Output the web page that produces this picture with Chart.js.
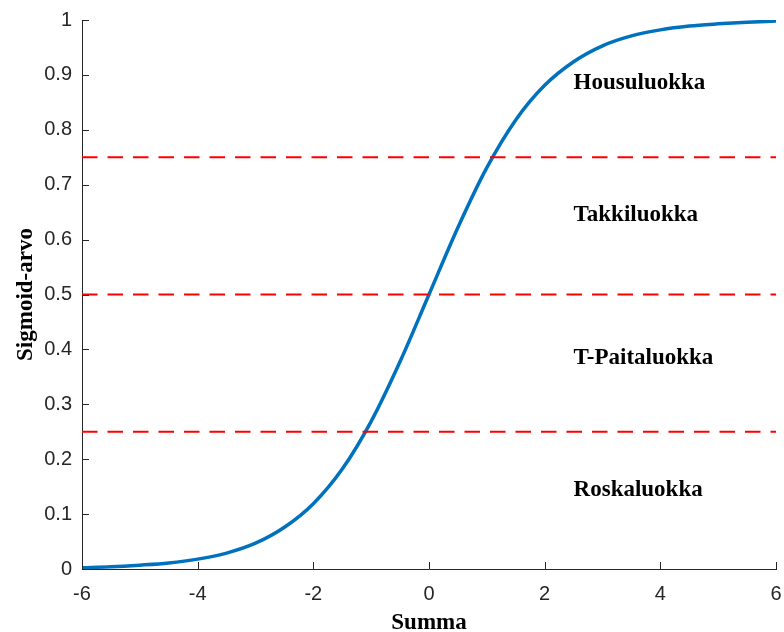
<!DOCTYPE html>
<html>
<head>
<meta charset="utf-8">
<script src="https://cdn.jsdelivr.net/npm/chart.js@4/dist/chart.umd.min.js"></script>
<style>
  body { margin: 0; background: #fff; }
</style>
</head>
<body>
<canvas id="chart" width="784" height="632"></canvas>
<script>
// Werte
const summa = [-6, -5.5, -5, -4.5, -4, -3.5, -3, -2.5, -2, -1.5, -1, -0.5, 0, 0.5, 1, 1.5, 2, 2.5, 3, 3.5, 4, 4.5, 5, 5.5, 6];
const sigmoidArvo = [0.0025, 0.004, 0.007, 0.011, 0.018, 0.029, 0.047, 0.076, 0.119, 0.182, 0.269, 0.378, 0.5, 0.622, 0.731, 0.818, 0.881, 0.924, 0.953, 0.971, 0.982, 0.989, 0.993, 0.996, 0.998];
const rajat = [0.25, 0.5, 0.75];
const luokat = ["Housuluokka", "Takkiluokka", "T-Paitaluokka", "Roskaluokka"];
const luokkaX = 2.5;
const luokkaY = [0.885, 0.644, 0.384, 0.143];
const xTicks = [-6, -4, -2, 0, 2, 4, 6];
const yTicks = [0, 0.1, 0.2, 0.3, 0.4, 0.5, 0.6, 0.7, 0.8, 0.9, 1];

const axisColor = '#262626';
const sansFont = '"Liberation Sans", Arial, sans-serif';
const serifFont = '"Liberation Serif", "Times New Roman", serif';

// Datensätze: Kurve + gestrichelte Grenzlinien
const datasets = [{
  label: 'sigmoid',
  data: summa.map((x, i) => ({ x: x, y: sigmoidArvo[i] })),
  borderColor: '#0072BD',
  borderWidth: 3.5,
  pointRadius: 0,
  cubicInterpolationMode: 'monotone',
  order: 2
}];
rajat.forEach(r => {
  datasets.push({
    label: 'raja ' + r,
    data: [{ x: xTicks[0], y: r }, { x: xTicks[xTicks.length - 1], y: r }],
    borderColor: '#FF0000',
    borderWidth: 2,
    borderDash: [15.5, 10],
    pointRadius: 0,
    order: 1
  });
});

// Plugin: Ticks nach innen + Textlabels
const extras = {
  id: 'extras',
  afterDatasetsDraw(chart) {
    const ctx = chart.ctx;
    const xs = chart.scales.x, ys = chart.scales.y;
    ctx.save();
    ctx.fillStyle = '#000';
    ctx.font = 'bold 23px ' + serifFont;
    ctx.textAlign = 'left';
    ctx.textBaseline = 'middle';
    luokat.forEach((t, i) => {
      ctx.fillText(t, xs.getPixelForValue(luokkaX), ys.getPixelForValue(luokkaY[i]));
    });
    ctx.restore();
  },
  afterDraw(chart) {
    const ctx = chart.ctx;
    const xs = chart.scales.x, ys = chart.scales.y;
    const a = chart.chartArea;
    ctx.save();
    ctx.strokeStyle = axisColor;
    ctx.lineWidth = 1;
    ctx.beginPath();
    xTicks.forEach(v => {
      const px = Math.round(xs.getPixelForValue(v)) + 0.5;
      ctx.moveTo(px, a.bottom);
      ctx.lineTo(px, a.bottom - 7);
    });
    yTicks.forEach(v => {
      const py = Math.round(ys.getPixelForValue(v)) + 0.5;
      ctx.moveTo(a.left, py);
      ctx.lineTo(a.left + 7, py);
    });
    ctx.stroke();
    ctx.restore();
  }
};

function noPad(s) {
  s.paddingLeft = 0;
  s.paddingRight = 0;
  s.paddingTop = 0;
  s.paddingBottom = 0;
}

new Chart(document.getElementById('chart'), {
  type: 'line',
  data: { datasets: datasets },
  options: {
    responsive: false,
    animation: false,
    layout: { padding: { top: 20, right: 8, left: 0, bottom: 0 } },
    plugins: { legend: { display: false }, tooltip: { enabled: false } },
    scales: {
      x: {
        type: 'linear',
        min: -6, max: 6,
        afterFit: s => { s.height = 63; noPad(s); },
        afterBuildTicks: s => { s.ticks = xTicks.map(v => ({ value: v })); },
        grid: { display: false, drawTicks: false },
        border: { display: true, color: axisColor, width: 1 },
        ticks: {
          padding: 13,
          color: axisColor,
          font: { family: sansFont, size: 20 },
          maxRotation: 0,
          callback: v => String(v)
        },
        title: {
          display: true,
          text: 'Summa',
          color: '#000',
          font: { family: serifFont, size: 23, weight: 'bold', lineHeight: 0.78 },
          padding: { top: 0, bottom: 0 }
        }
      },
      y: {
        type: 'linear',
        min: 0, max: 1,
        afterFit: s => { s.width = 82; noPad(s); },
        afterBuildTicks: s => { s.ticks = yTicks.map(v => ({ value: v })); },
        grid: { display: false, drawTicks: false },
        border: { display: true, color: axisColor, width: 1 },
        ticks: {
          padding: 10,
          color: axisColor,
          font: { family: sansFont, size: 20 },
          callback: v => String(v)
        },
        title: {
          display: true,
          text: 'Sigmoid-arvo',
          color: '#000',
          font: { family: serifFont, size: 23, weight: 'bold', lineHeight: 1 },
          padding: { top: 15, bottom: 0 }
        }
      }
    }
  },
  plugins: [extras]
});
</script>
</body>
</html>
